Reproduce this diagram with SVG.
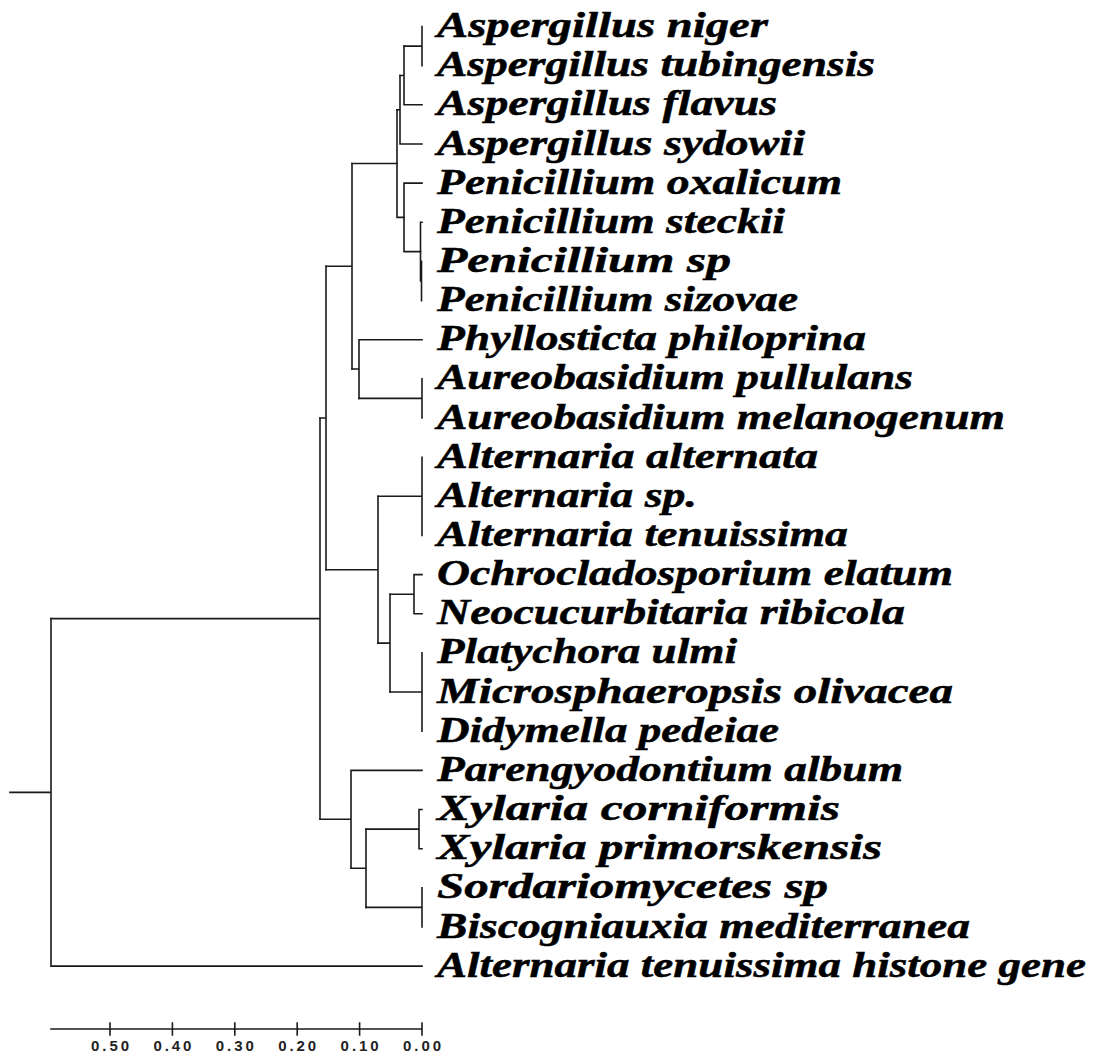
<svg xmlns="http://www.w3.org/2000/svg" width="1098" height="1055" viewBox="0 0 1098 1055">
<style>
.br{fill:none;stroke:#1a1a1a;stroke-width:1.6;stroke-linecap:square}
.lb{font-family:"Liberation Serif","Times New Roman",serif;font-weight:bold;font-style:italic;font-size:36px;fill:#000;stroke:#000;stroke-width:0.5}
.sc{font-family:"Liberation Sans",Arial,sans-serif;font-weight:bold;font-size:15px;fill:#222;text-anchor:middle}
</style>
<rect width="1098" height="1055" fill="#fff"/>
<g id="connectors" class="br">
<path d="M404,46.1H422M422,26.5V65.7"/>
<path d="M400,75.5H404M404,46.1V104.8H422"/>
<path d="M397,109.7H400M400,75.5V144H422"/>
<path d="M421.5,261.4V300.6M420.5,281H421.5M420.5,222.3V281M420.5,222.3H422"/>
<path d="M404,251.6H420.5M404,183.1V251.6M404,183.1H422"/>
<path d="M397,217.4H404M397,109.7V217.4"/>
<path d="M352,163.5H397"/>
<path d="M359,398.4H422M422,378.9V418"/>
<path d="M352,369H359M359,339.7V398.4M359,339.7H422"/>
<path d="M326,266.3H352M352,163.5V369"/>
<path d="M378,496.3H422M422,457.2V535.5"/>
<path d="M390,594.2H414M414,574.6V613.8M414,574.6H422M414,613.8H422"/>
<path d="M390,692H422M422,652.9V731.2"/>
<path d="M378,643.1H390M390,594.2V692"/>
<path d="M326,569.7H378M378,496.3V643.1"/>
<path d="M320,418H326M326,266.3V569.7"/>
<path d="M366,829.1H419M419,809.5V848.7M419,809.5H422M419,848.7H422"/>
<path d="M366,907.4H422M422,887.8V927"/>
<path d="M351,868.2H366M366,829.1V907.4"/>
<path d="M320,819.3H351M351,770.4V868.2M351,770.4H422"/>
<path d="M51,618.6H320M320,418V819.3"/>
<path d="M10,792.4H51M51,618.6V966.1H422"/>
</g>
<g id="labels" class="lb">
<text id="n0" x="437" y="37" textLength="331" lengthAdjust="spacingAndGlyphs">Aspergillus niger</text>
<text id="n1" x="437" y="76.2" textLength="438" lengthAdjust="spacingAndGlyphs">Aspergillus tubingensis</text>
<text id="n2" x="437" y="115.3" textLength="340" lengthAdjust="spacingAndGlyphs">Aspergillus flavus</text>
<text id="n3" x="437" y="154.5" textLength="368" lengthAdjust="spacingAndGlyphs">Aspergillus sydowii</text>
<text id="n4" x="437" y="193.6" textLength="405" lengthAdjust="spacingAndGlyphs">Penicillium oxalicum</text>
<text id="n5" x="437" y="232.8" textLength="348" lengthAdjust="spacingAndGlyphs">Penicillium steckii</text>
<text id="n6" x="437" y="271.9" textLength="294" lengthAdjust="spacingAndGlyphs">Penicillium sp</text>
<text id="n7" x="437" y="311.1" textLength="361" lengthAdjust="spacingAndGlyphs">Penicillium sizovae</text>
<text id="n8" x="437" y="350.2" textLength="429" lengthAdjust="spacingAndGlyphs">Phyllosticta philoprina</text>
<text id="n9" x="437" y="389.4" textLength="476" lengthAdjust="spacingAndGlyphs">Aureobasidium pullulans</text>
<text id="n10" x="437" y="428.5" textLength="568" lengthAdjust="spacingAndGlyphs">Aureobasidium melanogenum</text>
<text id="n11" x="437" y="467.7" textLength="381" lengthAdjust="spacingAndGlyphs">Alternaria alternata</text>
<text id="n12" x="437" y="506.8" textLength="260" lengthAdjust="spacingAndGlyphs">Alternaria sp.</text>
<text id="n13" x="437" y="546" textLength="411" lengthAdjust="spacingAndGlyphs">Alternaria tenuissima</text>
<text id="n14" x="437" y="585.1" textLength="516" lengthAdjust="spacingAndGlyphs">Ochrocladosporium elatum</text>
<text id="n15" x="437" y="624.3" textLength="468" lengthAdjust="spacingAndGlyphs">Neocucurbitaria ribicola</text>
<text id="n16" x="437" y="663.4" textLength="300" lengthAdjust="spacingAndGlyphs">Platychora ulmi</text>
<text id="n17" x="437" y="702.6" textLength="516" lengthAdjust="spacingAndGlyphs">Microsphaeropsis olivacea</text>
<text id="n18" x="437" y="741.7" textLength="342" lengthAdjust="spacingAndGlyphs">Didymella pedeiae</text>
<text id="n19" x="437" y="780.9" textLength="466" lengthAdjust="spacingAndGlyphs">Parengyodontium album</text>
<text id="n20" x="437" y="820" textLength="403" lengthAdjust="spacingAndGlyphs">Xylaria corniformis</text>
<text id="n21" x="437" y="859.2" textLength="445" lengthAdjust="spacingAndGlyphs">Xylaria primorskensis</text>
<text id="n22" x="437" y="898.3" textLength="391" lengthAdjust="spacingAndGlyphs">Sordariomycetes sp</text>
<text id="n23" x="437" y="937.5" textLength="533" lengthAdjust="spacingAndGlyphs">Biscogniauxia mediterranea</text>
<text id="n24" x="437" y="976.6" textLength="649" lengthAdjust="spacingAndGlyphs">Alternaria tenuissima histone gene</text>
</g>
<g id="scale">
<path class="br" d="M51,1029H422M110,1023V1035M172.4,1023V1035M234.8,1023V1035M297.2,1023V1035M359.6,1023V1035M422,1023V1035"/>
<g class="sc">
<text x="110" y="1051" textLength="38" lengthAdjust="spacing">0.50</text>
<text x="172.4" y="1051" textLength="38" lengthAdjust="spacing">0.40</text>
<text x="234.8" y="1051" textLength="38" lengthAdjust="spacing">0.30</text>
<text x="297.2" y="1051" textLength="38" lengthAdjust="spacing">0.20</text>
<text x="359.6" y="1051" textLength="38" lengthAdjust="spacing">0.10</text>
<text x="422" y="1051" textLength="38" lengthAdjust="spacing">0.00</text>
</g>
</g>
</svg>
